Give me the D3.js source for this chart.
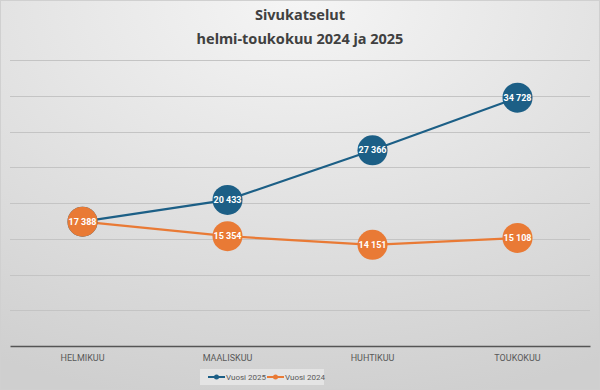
<!DOCTYPE html>
<html>
<head>
<meta charset="utf-8">
<script src="https://cdn.jsdelivr.net/npm/d3@7"></script>
<style>
  body { margin: 0; }
  svg { display: block; font-family: 'Noto Sans', sans-serif; }
  .narrow { font-family: Roboto, sans-serif; }
</style>
</head>
<body>
<div id="chart"></div>
<script>
const months = ['HELMIKUU', 'MAALISKUU', 'HUHTIKUU', 'TOUKOKUU']
const values2025 = [17385, 20433, 27366, 34728]
const values2024 = [17388, 15354, 14151, 15108]
const yTicks = [0, 5000, 10000, 15000, 20000, 25000, 30000, 35000, 40000]
const seriesNames = ['Vuosi 2025', 'Vuosi 2024']

const width = 600
const height = 390
const margin = { top: 60, left: 10, right: 10, bottom: 44 }

const svg = d3
  .select('#chart')
  .append('svg')
  .attr('width', width)
  .attr('height', height)

const defs = svg.append('defs')
const grad = defs
  .append('radialGradient')
  .attr('id', 'bg')
  .attr('cx', '50%')
  .attr('cy', '0%')
  .attr('r', '105%')
grad.append('stop').attr('offset', '0%').attr('stop-color', '#f5f5f5')
grad.append('stop').attr('offset', '100%').attr('stop-color', '#cfcfcf')

svg
  .append('rect')
  .attr('width', width)
  .attr('height', height)
  .attr('fill', 'url(#bg)')

svg
  .append('rect')
  .attr('x', 0.5)
  .attr('y', 0.5)
  .attr('width', width - 1)
  .attr('height', height - 1)
  .attr('fill', 'none')
  .attr('stroke', '#d0d0d0')

const x = d3
  .scaleBand()
  .domain(months)
  .range([margin.left, width - margin.right])

const y = d3
  .scaleLinear()
  .domain([0, 40000])
  .range([346, margin.top])

// gridlines
svg
  .append('g')
  .selectAll('line')
  .data(yTicks.slice(1))
  .enter()
  .append('line')
  .attr('x1', margin.left)
  .attr('x2', width - margin.right)
  .attr('y1', d => Math.round(y(d)) + 0.5)
  .attr('y2', d => Math.round(y(d)) + 0.5)
  .attr('stroke', '#c4c4c4')
  .attr('stroke-width', 1)

// x axis
const xAxis = svg
  .append('g')
  .attr('transform', 'translate(0,' + y(0) + ')')
  .call(d3.axisBottom(x).tickSize(0).tickPadding(9))
xAxis.select('.domain').attr('stroke', '#555').attr('stroke-width', 1.5)
xAxis
  .selectAll('text')
  .attr('class', 'narrow')
  .attr('fill', '#595959')
  .style('font-size', '9px')

// title
const title = svg
  .append('text')
  .attr('text-anchor', 'middle')
  .attr('fill', '#404040')
  .style('font-size', '14.5px')
  .style('font-weight', 'bold')
title.append('tspan').attr('x', width / 2).attr('y', 20).text('Sivukatselut')
title
  .append('tspan')
  .attr('x', width / 2)
  .attr('y', 44)
  .text('helmi-toukokuu 2024 ja 2025')

const series = [
  { name: seriesNames[0], values: values2025, color: '#1c5f86' },
  { name: seriesNames[1], values: values2024, color: '#e97a35' }
]

const line = d3
  .line()
  .x((d, i) => x(months[i]) + x.bandwidth() / 2)
  .y(d => y(d))

const fmt = d3.formatLocale({ thousands: ' ', grouping: [3], decimal: ',', currency: ['', ''] }).format(',d')

series.forEach(s => {
  svg
    .append('path')
    .datum(s.values)
    .attr('d', line)
    .attr('fill', 'none')
    .attr('stroke', s.color)
    .attr('stroke-width', 2.2)
})

series.forEach(s => {
  const g = svg
    .append('g')
    .selectAll('g')
    .data(s.values)
    .enter()
    .append('g')
    .attr('transform', (d, i) => 'translate(' + (x(months[i]) + x.bandwidth() / 2) + ',' + y(d) + ')')
  g.append('circle')
    .attr('r', 15)
    .attr('fill', s.color)
  g.append('text')
    .attr('class', 'narrow')
    .attr('text-anchor', 'middle')
    .attr('dy', '0.35em')
    .attr('fill', '#ffffff')
    .style('font-size', '9px')
    .style('font-weight', 'bold')
    .text(d => fmt(d))
})

// legend
const legend = svg.append('g').attr('transform', 'translate(200,369)')
legend
  .append('rect')
  .attr('width', 124)
  .attr('height', 16)
  .attr('fill', '#e8e8e8')
  .attr('opacity', 0.8)
series.forEach((s, i) => {
  const lg = legend.append('g').attr('transform', 'translate(' + (8 + i * 59) + ',8)')
  lg.append('line')
    .attr('x1', 0)
    .attr('x2', 17)
    .attr('stroke', s.color)
    .attr('stroke-width', 2)
  lg.append('circle').attr('cx', 8.5).attr('r', 2.5).attr('fill', s.color)
  lg.append('text')
    .attr('class', 'narrow')
    .attr('x', 18)
    .attr('dy', '0.35em')
    .attr('fill', '#595959')
    .style('font-size', '8px')
    .text(s.name)
})
</script>
</body>
</html>
